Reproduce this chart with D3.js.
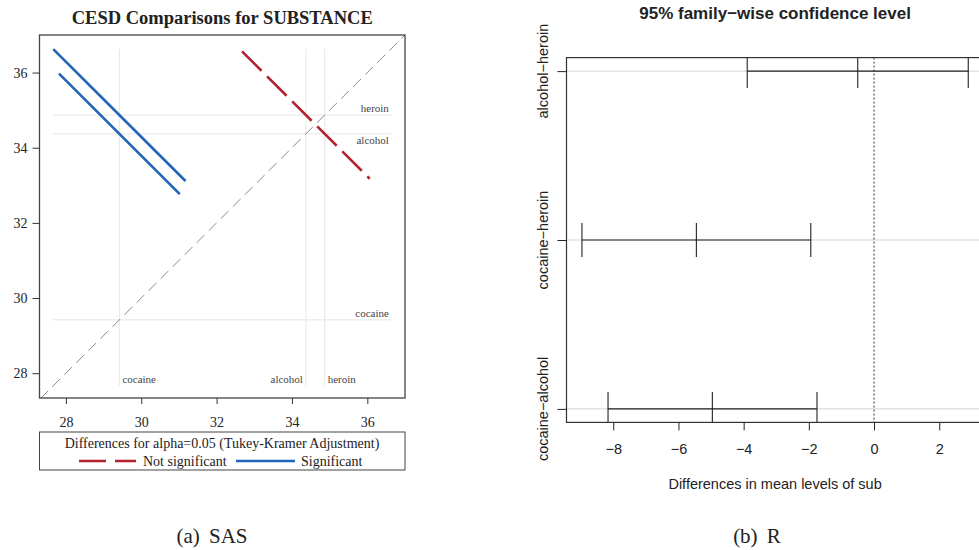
<!DOCTYPE html>
<html>
<head>
<meta charset="utf-8">
<script src="https://cdn.jsdelivr.net/npm/d3@7"></script>
<style>
  body { margin: 0; background: #fff; }
  svg text { fill: #222; }
</style>
</head>
<body>
<svg id="fig" width="979" height="550"></svg>
<script>
// ---- Data -------------------------------------------------------------
// Mean CESD score by primary substance
const groups = ["alcohol", "cocaine", "heroin"];
const cesdMeans = [34.37, 29.42, 34.87];

// Tukey pairwise comparisons (first level minus second level)
const pairFirst = ["alcohol", "cocaine", "cocaine"];
const pairSecond = ["heroin", "heroin", "alcohol"];
const pairLabels = ["alcohol\u2212heroin", "cocaine\u2212heroin", "cocaine\u2212alcohol"];
const pairDiff = [-0.50, -5.45, -4.96];
const pairLower = [-3.89, -8.96, -8.16];
const pairUpper = [2.89, -1.94, -1.75];

// Axis ticks
const meanTicks = [28, 30, 32, 34, 36];
const diffTicks = [-8, -6, -4, -2, 0, 2];

// Which side of each reference line its label sits on
const hLabelSide = ["below", "above", "above"];   // alcohol, cocaine, heroin
const vLabelSide = ["left", "right", "right"];

// ---- Setup ------------------------------------------------------------
const svg = d3.select("#fig");
const serif = "'Liberation Serif','Times New Roman',Times,serif";
const sans = "'Liberation Sans',Arial,Helvetica,sans-serif";
const blue = "#1f64b6";
const red = "#b3222f";
const meanOf = Object.fromEntries(groups.map((g, i) => [g, cesdMeans[i]]));

// ======================================================================
// Left panel: diffogram of CESD means
// ======================================================================
const L = { left: 39.5, right: 405, top: 35, bottom: 398 };
const xL = d3.scaleLinear().domain([27.3, 37.0]).range([L.left, L.right]);
const yL = d3.scaleLinear().domain([27.34, 37.0]).range([L.bottom, L.top]);

svg.append("defs").append("clipPath").attr("id", "clipL")
  .append("rect").attr("x", L.left).attr("y", L.top)
  .attr("width", L.right - L.left).attr("height", L.bottom - L.top);

svg.append("text")
  .attr("x", (L.left + L.right) / 2).attr("y", 24)
  .attr("text-anchor", "middle")
  .style("font-family", serif).style("font-size", "18.5px").style("font-weight", "bold")
  .text("CESD Comparisons for SUBSTANCE");

// Segments: centred on (mean of first, mean of second), slope -1
const segs = pairFirst.map((a, i) => {
  const h = (pairUpper[i] - pairLower[i]) / 4;
  const mx = meanOf[a], my = meanOf[pairSecond[i]];
  return {
    x1: mx - h, y1: my + h, x2: mx + h, y2: my - h,
    sig: pairUpper[i] < 0 || pairLower[i] > 0
  };
});
const refLo = d3.min(segs, s => Math.min(s.x1, s.y2));
const refHi = d3.max(segs, s => Math.max(s.x2, s.y1));

const gL = svg.append("g");

// reference lines at each group mean
gL.selectAll("line.vref").data(groups).join("line")
  .attr("x1", (g, i) => xL(cesdMeans[i])).attr("x2", (g, i) => xL(cesdMeans[i]))
  .attr("y1", yL(refHi)).attr("y2", yL(refLo))
  .attr("stroke", "#e6e6e6").attr("stroke-width", 1);
gL.selectAll("line.href").data(groups).join("line")
  .attr("y1", (g, i) => yL(cesdMeans[i])).attr("y2", (g, i) => yL(cesdMeans[i]))
  .attr("x1", xL(refLo)).attr("x2", xL(refHi))
  .attr("stroke", "#e6e6e6").attr("stroke-width", 1);

// labels of the reference lines
gL.selectAll("text.hlab").data(groups).join("text")
  .attr("x", xL(refHi) - 2)
  .attr("y", (g, i) => yL(cesdMeans[i]) + (hLabelSide[i] === "above" ? -3 : 10))
  .attr("text-anchor", "end")
  .style("font-family", serif).style("font-size", "11px").style("fill", "#444")
  .text(g => g);
gL.selectAll("text.vlab").data(groups).join("text")
  .attr("x", (g, i) => xL(cesdMeans[i]) + (vLabelSide[i] === "right" ? 3 : -3))
  .attr("y", yL(refLo) - 2.5)
  .attr("text-anchor", (g, i) => vLabelSide[i] === "right" ? "start" : "end")
  .style("font-family", serif).style("font-size", "11px").style("fill", "#444")
  .text(g => g);

// diagonal of equality
gL.append("line")
  .attr("clip-path", "url(#clipL)")
  .attr("x1", xL(27.0)).attr("y1", yL(27.0))
  .attr("x2", xL(37.3)).attr("y2", yL(37.3))
  .attr("stroke", "#8a8a8a").attr("stroke-width", 1)
  .attr("stroke-dasharray", "11,6");

// comparison segments
gL.selectAll("line.seg").data(segs).join("line")
  .attr("x1", d => xL(d.x1)).attr("y1", d => yL(d.y1))
  .attr("x2", d => xL(d.x2)).attr("y2", d => yL(d.y2))
  .attr("stroke", d => d.sig ? blue : red)
  .attr("stroke-width", 2.6)
  .attr("stroke-dasharray", d => d.sig ? null : "27.5,7.9");

// frame
gL.append("rect")
  .attr("x", L.left).attr("y", L.top)
  .attr("width", L.right - L.left).attr("height", L.bottom - L.top)
  .attr("fill", "none").attr("stroke", "#444").attr("stroke-width", 1.3);

// axes
const axL = svg.append("g").attr("transform", `translate(0,${L.bottom})`)
  .call(d3.axisBottom(xL).tickValues(meanTicks).tickSize(6).tickSizeOuter(0).tickPadding(13));
const ayL = svg.append("g").attr("transform", `translate(${L.left},0)`)
  .call(d3.axisLeft(yL).tickValues(meanTicks).tickSize(7).tickSizeOuter(0).tickPadding(5));
[axL, ayL].forEach(a => {
  a.select(".domain").remove();
  a.selectAll("line").attr("stroke", "#333");
  a.selectAll("text").style("font-family", serif).style("font-size", "14px").style("fill", "#222");
});

// legend
const lg = svg.append("g");
lg.append("rect").attr("x", 39.5).attr("y", 432).attr("width", 365.5).attr("height", 38)
  .attr("fill", "#fff").attr("stroke", "#444").attr("stroke-width", 1);
lg.append("text").attr("x", 222).attr("y", 447.5).attr("text-anchor", "middle")
  .style("font-family", serif).style("font-size", "14px")
  .text("Differences for alpha=0.05 (Tukey-Kramer Adjustment)");
lg.append("line").attr("x1", 79).attr("x2", 136).attr("y1", 461).attr("y2", 461)
  .attr("stroke", red).attr("stroke-width", 2.6).attr("stroke-dasharray", "27,9");
lg.append("text").attr("x", 143).attr("y", 465.5)
  .style("font-family", serif).style("font-size", "14px").text("Not significant");
lg.append("line").attr("x1", 236).attr("x2", 295).attr("y1", 461).attr("y2", 461)
  .attr("stroke", blue).attr("stroke-width", 2.6);
lg.append("text").attr("x", 301).attr("y", 465.5)
  .style("font-family", serif).style("font-size", "14px").text("Significant");

// caption
svg.append("text").attr("x", 212).attr("y", 543).attr("text-anchor", "middle")
  .style("font-family", serif).style("font-size", "21px").style("word-spacing", "4px")
  .text("(a) SAS");

// ======================================================================
// Right panel: Tukey HSD intervals
// ======================================================================
const R = { left: 566.5, right: 983.7, top: 57.6, bottom: 422.4 };
const xExt = [d3.min(pairLower), d3.max(pairUpper)];
const xPad = (xExt[1] - xExt[0]) * 0.04;
const xR = d3.scaleLinear().domain([xExt[0] - xPad, xExt[1] + xPad]).range([R.left, R.right]);
const nPairs = pairLabels.length;
const rowOf = i => nPairs - i;              // first comparison on top
const yPad = (nPairs - 1) * 0.04;
const yR = d3.scaleLinear().domain([1 - yPad, nPairs + yPad]).range([R.bottom, R.top]);

svg.append("defs").append("clipPath").attr("id", "clipR")
  .append("rect").attr("x", R.left).attr("y", R.top)
  .attr("width", R.right - R.left).attr("height", R.bottom - R.top);

svg.append("text")
  .attr("x", (R.left + R.right) / 2).attr("y", 19)
  .attr("text-anchor", "middle")
  .style("font-family", sans).style("font-size", "17px").style("font-weight", "bold")
  .text("95% family\u2212wise confidence level");

const gR = svg.append("g").attr("clip-path", "url(#clipR)");

// light guide line through each comparison
gR.selectAll("line.guide").data(pairLabels).join("line")
  .attr("x1", R.left).attr("x2", R.right)
  .attr("y1", (d, i) => yR(rowOf(i))).attr("y2", (d, i) => yR(rowOf(i)))
  .attr("stroke", "#d3d3d3").attr("stroke-width", 1);

// zero line
gR.append("line")
  .attr("x1", xR(0)).attr("x2", xR(0)).attr("y1", R.top).attr("y2", R.bottom)
  .attr("stroke", "#333").attr("stroke-width", 1).attr("stroke-dasharray", "2,2");

// interval bars
gR.selectAll("line.ci").data(pairLabels).join("line")
  .attr("x1", (d, i) => xR(pairLower[i])).attr("x2", (d, i) => xR(pairUpper[i]))
  .attr("y1", (d, i) => yR(rowOf(i))).attr("y2", (d, i) => yR(rowOf(i)))
  .attr("stroke", "#222").attr("stroke-width", 1.1);

// end and centre marks
const marks = [];
pairLabels.forEach((d, i) => {
  [pairLower[i], pairDiff[i], pairUpper[i]].forEach(v => marks.push({ v, row: rowOf(i) }));
});
gR.selectAll("line.mark").data(marks).join("line")
  .attr("x1", d => xR(d.v)).attr("x2", d => xR(d.v))
  .attr("y1", d => yR(d.row + 0.1)).attr("y2", d => yR(d.row - 0.1))
  .attr("stroke", "#222").attr("stroke-width", 1.1);

// frame
svg.append("rect")
  .attr("x", R.left).attr("y", R.top)
  .attr("width", R.right - R.left).attr("height", R.bottom - R.top)
  .attr("fill", "none").attr("stroke", "#333").attr("stroke-width", 1.2);

// axes
const axR = svg.append("g").attr("transform", `translate(0,${R.bottom})`)
  .call(d3.axisBottom(xR).tickValues(diffTicks).tickSize(8).tickSizeOuter(0).tickPadding(13.5));
axR.select(".domain").remove();
axR.selectAll("line").attr("stroke", "#222");
axR.selectAll("text").style("font-family", sans).style("font-size", "14.5px").style("fill", "#222");

const ayR = svg.append("g").attr("transform", `translate(${R.left},0)`)
  .call(d3.axisLeft(yR).tickValues(pairLabels.map((d, i) => rowOf(i))).tickSize(9)
    .tickSizeOuter(0).tickFormat(""));
ayR.select(".domain").remove();
ayR.selectAll("line").attr("stroke", "#222");

svg.selectAll("text.ylab").data(pairLabels).join("text")
  .attr("transform", (d, i) => `translate(542.7,${yR(rowOf(i))}) rotate(-90)`)
  .attr("text-anchor", "middle").attr("dy", "0.35em")
  .style("font-family", sans).style("font-size", "14.5px")
  .text(d => d);

svg.append("text")
  .attr("x", (R.left + R.right) / 2).attr("y", 489)
  .attr("text-anchor", "middle")
  .style("font-family", sans).style("font-size", "14.5px")
  .text("Differences in mean levels of sub");

// caption
svg.append("text").attr("x", 757).attr("y", 543).attr("text-anchor", "middle")
  .style("font-family", serif).style("font-size", "21px").style("word-spacing", "4px")
  .text("(b) R");
</script>
</body>
</html>
